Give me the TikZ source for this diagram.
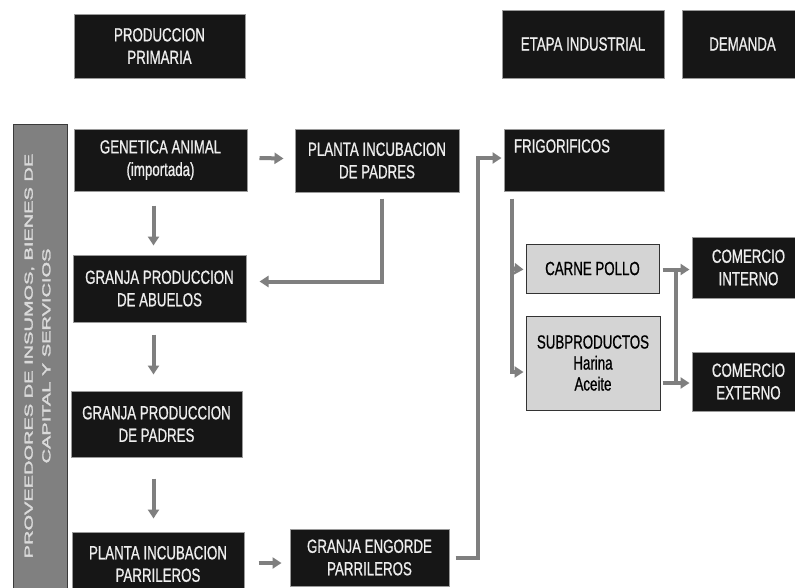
\documentclass[tikz,border=0pt]{standalone}
\usepackage{fontspec}
\setmainfont{Liberation Sans}[FakeStretch=0.70,FakeBold=0.8]
\newfontfamily\sidefont{Liberation Sans}[FakeBold=2]
\usetikzlibrary{arrows.meta,calc}
\definecolor{boxblack}{HTML}{161616}
\definecolor{boxedge}{HTML}{9A9A9A}
\definecolor{boxtext}{HTML}{EEEEEE}
\definecolor{gfill}{HTML}{D4D4D4}
\definecolor{gedge}{HTML}{333333}
\definecolor{sidefill}{HTML}{808080}
\definecolor{sideedge}{HTML}{3A3A3A}
\definecolor{sidetext}{HTML}{DADADA}
\definecolor{arrgray}{HTML}{7F7F7F}
\tikzset{
  sz/.style 2 args={minimum width=#1pt, minimum height=#2pt},
  bbox/.style={draw=boxedge, fill=boxblack, line width=1pt, text=boxtext,
    font=\fontsize{19}{22.5}\selectfont, align=center, inner sep=0pt},
  gbox/.style={draw=gedge, fill=gfill, line width=1pt, text=black,
    font=\fontsize{19}{21}\selectfont, align=center, inner sep=0pt},
  sidebox/.style={draw=sideedge, fill=sidefill, line width=1pt},
  sidelabel/.style={text=sidetext, inner sep=0pt},
  conn/.style={draw=arrgray, line width=4pt},
  arr/.style={conn, -{Triangle[length=9pt,width=11pt]}},
}
\begin{document}
\begin{tikzpicture}[x=1pt,y=-1pt]
\useasboundingbox (0,0) rectangle (795,587);
\clip (0,0) rectangle (795,587);
\fill[white] (0,0) rectangle (795,587);

% header boxes
\node[bbox, sz={171}{64}] (prim) at (159.5,46) {PRODUCCION\\PRIMARIA};
\node[bbox, sz={162}{68}] (etapa) at (583,44) {ETAPA INDUSTRIAL};
\node[bbox, sz={121}{68}] (dem) at (742.5,44) {DEMANDA};

% side bar
\node[sidebox, rotate=90, sz={476}{54}] (side) at (40,362) {};
\node[sidelabel, rotate=90] (sidetxt) at (38,356)
  {\scalebox{1}[0.58]{\sidefont\fontsize{20}{30.5}\selectfont
   \begin{tabular}{@{}c@{}}PROVEEDORES DE INSUMOS, BIENES DE\\CAPITAL Y SERVICIOS\end{tabular}}};

% primary production column
\node[bbox, sz={173}{62}] (gen) at (160.5,160) {GENETICA ANIMAL\\(importada)};
\node[bbox, sz={164}{63}] (pip) at (377,160.5) {PLANTA INCUBACION\\DE PADRES};
\node[bbox, sz={173}{67}] (abu) at (159.5,288.5) {GRANJA PRODUCCION\\DE ABUELOS};
\node[bbox, sz={171}{66}] (pad) at (156.5,424) {GRANJA PRODUCCION\\DE PADRES};
\node[bbox, sz={172}{64}] (pip2) at (158,564) {PLANTA INCUBACION\\PARRILEROS};
\node[bbox, sz={159}{57}] (gep) at (369.5,557.5) {GRANJA ENGORDE\\PARRILEROS};

% industrial
\node[bbox, sz={160}{62}] (frig) at (584,160) {};
\node[text=boxtext, font=\fontsize{19}{22.5}\selectfont, inner sep=0pt] (frigtxt) at (562,146) {FRIGORIFICOS};
\node[gbox, sz={133}{49}] (carne) at (592.5,268.5) {CARNE POLLO};
\node[gbox, sz={134}{94}] (sub) at (593,363) {SUBPRODUCTOS\\Harina\\Aceite};

% demand
\node[bbox, sz={113}{61}] (ci) at (748.5,267.5) {COMERCIO\\INTERNO};
\node[bbox, sz={113}{59}] (ce) at (748.5,381.5) {COMERCIO\\EXTERNO};

% connectors
\coordinate (a1s) at ($(gen.east)+(12,-2)$);
\draw[arr] (a1s) -- ($(pip.west)+(-11,-2)$);

\coordinate (a2s) at ($(gen.south)+(-7,14)$);
\draw[arr] (a2s) -- (a2s |- {$(abu.north)+(0,-9)$});

\coordinate (a3s) at ($(pip.south)+(5,6)$);
\draw[arr] (a3s) |- ($(abu.east)+(13,-7)$);

\coordinate (a4s) at ($(abu.south)+(-6,12)$);
\draw[arr] (a4s) -- (a4s |- {$(pad.north)+(0,-16)$});

\coordinate (a5s) at ($(pad.south)+(-3,21)$);
\draw[arr] (a5s) -- (a5s |- {$(pip2.north)+(0,-13)$});

\coordinate (a6s) at ($(pip2.east)+(14,-1)$);
\draw[arr] (a6s) -- (a6s -| {$(gep.west)+(-8,0)$});

\coordinate (a7s) at ($(gep.east)+(6,0)$);
\coordinate (a7j) at ($(frig.west)+(-26,-2)$);
\draw[arr] (a7s) -- (a7s -| a7j) -- (a7j) -- ($(frig.west)+(-2,-2)$);

\coordinate (a8s) at ($(frig.south west)+(8,7)$);
\draw[arr] (a8s) |- ($(sub.west)+(-2,9)$);
\draw[arr] (a8s |- carne.west) -- ($(carne.west)+(-2,1)$);

\coordinate (a9s) at ($(carne.east)+(3,1)$);
\draw[arr] (a9s) -- ($(ci.west)+(-2,2)$);
\coordinate (a10s) at ($(sub.east)+(2,20)$);
\draw[arr] (a10s) -- ($(ce.west)+(-2,1.5)$);
\draw[conn] ($(carne.east)+(16,1)$) -- ($(sub.east)+(15,20)$);
\end{tikzpicture}
\end{document}
